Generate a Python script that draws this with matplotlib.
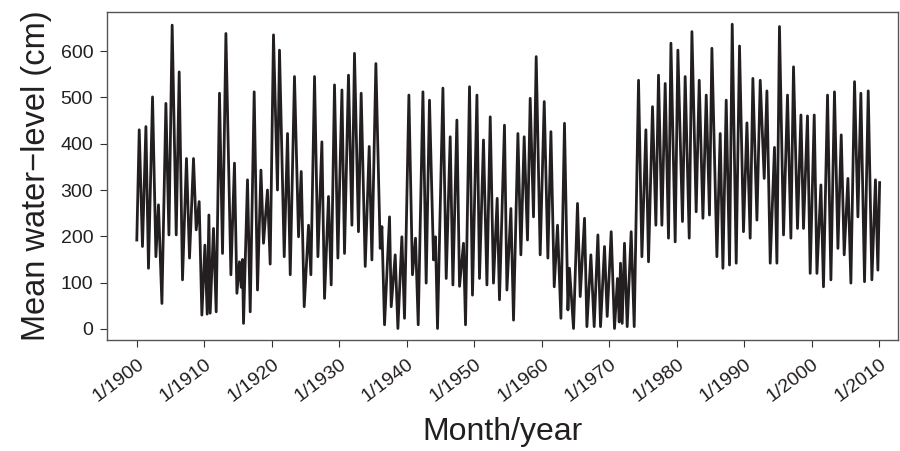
import matplotlib
matplotlib.use("Agg")
import matplotlib.pyplot as plt

plt.rcParams['font.family'] = ['Liberation Sans', 'DejaVu Sans']

# Data: decimal year and mean water level in cm
years = [
    1900.00, 1900.36, 1900.84, 1901.35, 1901.73, 1902.33, 1902.83, 1903.21, 1903.72, 1904.31,
    1904.76, 1905.24, 1905.84, 1906.28, 1906.77, 1907.36, 1907.81, 1908.40, 1908.80, 1909.24,
    1909.64, 1910.09, 1910.43, 1910.68, 1910.87, 1911.36, 1911.76, 1912.25, 1912.70, 1913.20,
    1913.94, 1914.47, 1914.83, 1915.21, 1915.47, 1915.66, 1915.81, 1916.40, 1916.80, 1917.39,
    1917.88, 1918.39, 1918.77, 1919.36, 1919.76, 1920.25, 1920.84, 1921.14, 1921.84, 1922.33,
    1922.73, 1923.36, 1923.96, 1924.36, 1924.80, 1925.44, 1925.79, 1926.33, 1926.83, 1927.42,
    1927.81, 1928.40, 1928.80, 1929.29, 1929.79, 1930.39, 1930.77, 1931.36, 1931.87, 1932.25,
    1932.84, 1933.24, 1933.84, 1934.43, 1934.83, 1935.42, 1936.06, 1936.31, 1936.70, 1937.44,
    1937.69, 1938.28, 1938.68, 1939.27, 1939.66, 1940.31, 1940.84, 1941.29, 1941.69, 1942.39,
    1942.87, 1943.36, 1943.96, 1944.25, 1944.55, 1945.35, 1945.84, 1946.43, 1946.83, 1947.42,
    1947.81, 1948.40, 1948.70, 1949.29, 1949.73, 1950.39, 1950.77, 1951.36, 1951.87, 1952.36,
    1952.84, 1953.39, 1953.73, 1954.47, 1954.83, 1955.42, 1955.81, 1956.46, 1956.90, 1957.39,
    1957.88, 1958.28, 1958.77, 1959.17, 1959.76, 1960.36, 1960.90, 1961.35, 1961.84, 1962.33,
    1962.83, 1963.36, 1963.87, 1964.10, 1964.70, 1965.29, 1965.69, 1966.33, 1966.68, 1967.27,
    1967.76, 1968.31, 1968.70, 1969.29, 1969.69, 1970.28, 1970.77, 1971.21, 1971.47, 1971.66,
    1971.91, 1972.25, 1972.65, 1973.24, 1973.69, 1974.33, 1974.83, 1975.42, 1975.81, 1976.40,
    1976.90, 1977.29, 1977.79, 1978.28, 1978.77, 1979.13, 1979.76, 1980.16, 1980.84, 1981.24,
    1981.84, 1982.24, 1982.87, 1983.32, 1983.87, 1984.36, 1984.84, 1985.20, 1985.94, 1986.43,
    1986.83, 1987.32, 1987.81, 1988.21, 1988.80, 1989.29, 1989.88, 1990.39, 1990.87, 1991.27,
    1991.87, 1992.36, 1992.95, 1993.35, 1993.84, 1994.47, 1994.83, 1995.21, 1995.81, 1996.40,
    1996.90, 1997.29, 1997.88, 1998.39, 1998.77, 1999.36, 1999.76, 2000.36, 2000.76, 2001.35,
    2001.73, 2002.33, 2002.83, 2003.36, 2003.87, 2004.36, 2004.80, 2005.35, 2005.79, 2006.33,
    2006.83, 2007.27, 2007.81, 2008.36, 2008.90, 2009.43, 2009.79, 2010.05,
]
levels = [
    192, 430, 178, 437, 131, 501, 156, 268, 55, 487,
    203, 656, 203, 555, 106, 368, 153, 368, 214, 275,
    30, 181, 32, 246, 34, 217, 37, 509, 163, 638,
    117, 358, 77, 145, 90, 150, 12, 322, 37, 512,
    84, 343, 185, 300, 140, 635, 300, 602, 156, 422,
    117, 545, 199, 340, 48, 224, 117, 545, 156, 404,
    66, 286, 95, 527, 153, 516, 163, 548, 224, 595,
    210, 509, 135, 394, 149, 573, 174, 221, 9, 242,
    48, 160, 1, 199, 23, 505, 117, 196, 9, 512,
    99, 494, 149, 199, 1, 520, 109, 415, 95, 451,
    92, 185, 9, 523, 73, 505, 109, 408, 95, 458,
    99, 282, 63, 440, 84, 260, 19, 422, 160, 415,
    192, 498, 242, 588, 160, 491, 153, 426, 91, 224,
    23, 444, 41, 131, 1, 271, 70, 239, 5, 160,
    5, 203, 5, 178, 27, 210, 1, 109, 15, 142,
    12, 185, 5, 210, 5, 537, 156, 430, 145, 480,
    224, 548, 224, 530, 196, 617, 188, 602, 232, 545,
    196, 642, 253, 537, 239, 505, 246, 606, 156, 422,
    131, 494, 138, 658, 142, 611, 210, 445, 196, 541,
    235, 537, 325, 514, 142, 392, 142, 653, 203, 505,
    196, 566, 217, 462, 217, 460, 120, 462, 120, 311,
    91, 505, 106, 512, 174, 419, 160, 325, 99, 534,
    242, 509, 102, 514, 106, 322, 127, 316,
]

tick_years = [1900, 1910, 1920, 1930, 1940, 1950, 1960, 1970, 1980, 1990, 2000, 2010]
tick_labels = ['1/%d' % y for y in tick_years]

fig = plt.figure(figsize=(9, 4.51), dpi=100)
ax = fig.add_axes([0.119, 0.246, 0.879, 0.727])
ax.plot(years, levels, color='#231f20', linewidth=2.0, solid_joinstyle='round')

ax.set_xlim(1895.6, 2012.8)
ax.set_ylim(-24, 684)
ax.set_yticks([0, 100, 200, 300, 400, 500, 600])
ax.set_xticks(tick_years)
ax.set_xticklabels(tick_labels, rotation=37, ha='right', rotation_mode='anchor')
ax.tick_params(labelsize=14, length=5, color='#333333', colors='#231f20')
ax.tick_params(axis='x', pad=6)
ax.tick_params(axis='y', pad=5)

for s in ax.spines.values():
    s.set_color('#555555')
    s.set_linewidth(1.0)

ax.set_ylabel('Mean water\u2212level (cm)', fontsize=23.5, labelpad=6, color='#231f20')
ax.set_xlabel('Month/year', fontsize=23, labelpad=9, color='#231f20')

fig.savefig('out.png', dpi=100)
